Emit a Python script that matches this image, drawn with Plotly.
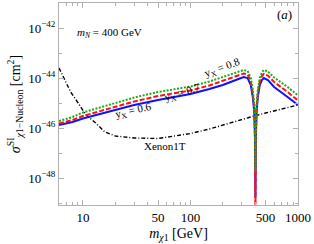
import plotly.graph_objects as go

# ---- data ----
mass = [6, 8, 10, 15, 20, 30, 50, 70, 100, 150, 200, 250, 313, 340, 364, 380, 392, 398, 402,
        406, 412, 423, 441, 461, 481, 525, 600, 800, 1000]
log_sigma_y06 = [-45.88, -45.76, -45.62, -45.42, -45.26, -45.08, -44.88, -44.76, -44.64, -44.44,
                 -44.28, -44.12, -43.96, -44.00, -44.28, -44.76, -45.36, -46.40, -48.80,
                 -46.40, -45.36, -44.76, -44.28, -44.08, -44.00, -44.08, -44.36, -44.76, -45.08]
log_sigma_y07 = [-45.82, -45.68, -45.52, -45.30, -45.15, -44.94, -44.72, -44.60, -44.50, -44.30,
                 -44.12, -43.98, -43.82, -43.86, -44.14, -44.62, -45.22, -46.25, -49.50,
                 -46.25, -45.22, -44.62, -44.14, -43.93, -43.84, -43.90, -44.16, -44.56, -44.90]
log_sigma_y08 = [-45.72, -45.56, -45.38, -45.16, -45.02, -44.78, -44.56, -44.44, -44.34, -44.14,
                 -43.96, -43.82, -43.68, -43.72, -44.00, -44.48, -45.08, -46.10, -47.76,
                 -46.10, -45.08, -44.48, -44.00, -43.78, -43.68, -43.74, -43.98, -44.36, -44.70]

xenon_mass = [6, 7, 7.7, 9, 10.7, 13, 16, 20, 30, 50, 80, 100, 150, 230, 350, 500, 700, 1000]
xenon_log_sigma = [-43.60, -44.19, -44.56, -44.99, -45.48, -45.78, -46.16, -46.32, -46.40, -46.42,
                   -46.30, -46.22, -46.04, -45.80, -45.58, -45.40, -45.24, -45.08]

x_tickvals = [10, 50, 100, 500, 1000]
x_ticktext = ["10", "50", "100", "500", "1000"]
x_minor = [6, 7, 8, 9, 20, 30, 40, 60, 70, 80, 90, 200, 300, 400, 600, 700, 800, 900]
y_exponents = [-42, -44, -46, -48]
y_minor_exponents = [-41, -43, -45, -47, -49]

# ---- figure ----
def tens(vals):
    return [10 ** v for v in vals]

fig = go.Figure()
fig.add_trace(go.Scatter(x=xenon_mass, y=tens(xenon_log_sigma), mode="lines",
                         line=dict(color="black", width=1.4, dash="4px,2px,1px,2px")))
fig.add_trace(go.Scatter(x=mass, y=tens(log_sigma_y06), mode="lines",
                         line=dict(color="#1010ff", width=2)))
fig.add_trace(go.Scatter(x=mass, y=tens(log_sigma_y07), mode="lines",
                         line=dict(color="#ff1010", width=2, dash="5px,2px")))
fig.add_trace(go.Scatter(x=mass, y=tens(log_sigma_y08), mode="lines",
                         line=dict(color="#10b010", width=2, dash="2px,1.5px")))

axis_col = "#b0b0b0"
W, H = 314, 244
L, R, T, B = 59, 16, 3, 39
pw, ph = W - L - R, H - T - B

def px(x, y):
    return (x - L) / pw, (H - B - y) / ph

fig.update_layout(
    width=W, height=H, margin=dict(l=L, r=R, t=T, b=B),
    plot_bgcolor="white", paper_bgcolor="white", showlegend=False,
    font=dict(family="Liberation Serif", color="black", size=13),
    xaxis=dict(type="log", range=[0.778, 3.0], tickvals=x_tickvals, ticktext=x_ticktext,
               ticks="inside", ticklen=5, tickcolor=axis_col, showline=True,
               linecolor=axis_col, mirror="ticks", showgrid=False, zeroline=False,
               tickfont=dict(size=13),
               minor=dict(tickvals=x_minor, ticks="inside", ticklen=3, tickcolor=axis_col),
               title=dict(text="<i>m</i><sub><i>χ</i>1</sub> [GeV]", font=dict(size=14),
                          standoff=4)),
    yaxis=dict(type="log", range=[-49.08, -41.0],
               tickvals=[10 ** e for e in y_exponents],
               ticktext=["10<sup>−%d</sup>" % (-e) for e in y_exponents],
               ticks="inside", ticklen=5, tickcolor=axis_col, showline=True,
               linecolor=axis_col, mirror="ticks", showgrid=False, zeroline=False,
               tickfont=dict(size=13),
               minor=dict(tickvals=[10 ** e for e in y_minor_exponents], ticks="inside",
                          ticklen=3, tickcolor=axis_col),
               title=dict(text="<i>σ</i><sup>SI</sup><sub><i>χ</i>1−Nucleon</sub> [cm<sup>2</sup>]",
                          font=dict(size=14), standoff=4)),
)

def note(text, x, y, size=11, angle=0, xanchor="center"):
    ax, ay = px(x, y)
    fig.add_annotation(text=text, x=ax, y=ay, xref="paper", yref="paper", showarrow=False,
                       font=dict(size=size, family="Liberation Serif", color="black"),
                       textangle=angle, xanchor=xanchor, yanchor="middle")

note("<i>m</i><sub><i>N</i></sub> = 400 GeV", 75, 33, size=11, xanchor="left")
note("(<i>a</i>)", 284, 14, size=13)
note("y<sub>X</sub> = 0.8", 222, 68, angle=-20)
note("y<sub>X</sub> = 0.7", 182, 93, angle=-17)
note("y<sub>X</sub> = 0.6", 133, 111, angle=-13)
note("Xenon1T", 165, 146)

fig.write_html("out.html", config={"displayModeBar": False},
               post_script="document.body.style.margin='0';document.body.style.overflow='hidden';")
